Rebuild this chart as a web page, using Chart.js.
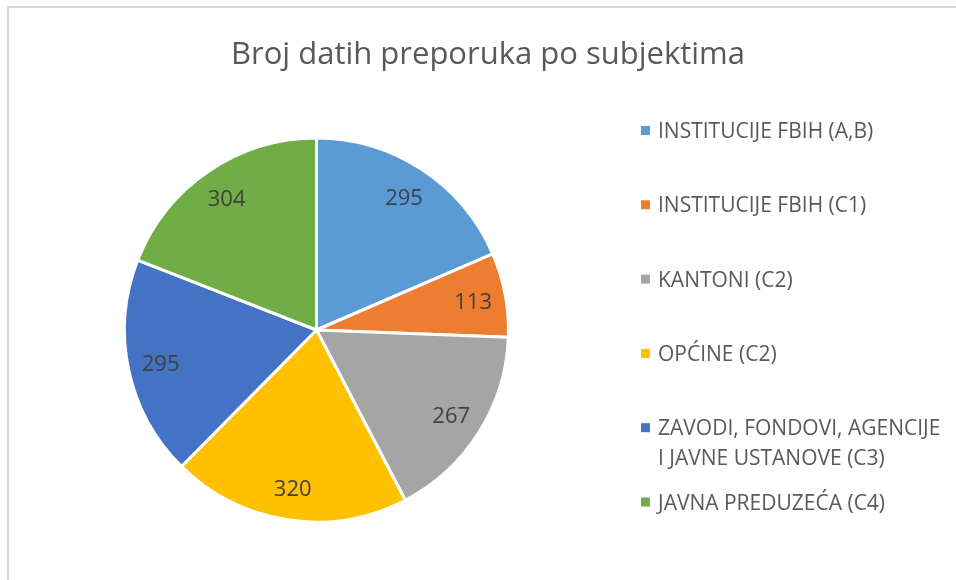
<!DOCTYPE html>
<html><head><meta charset="utf-8">
<script src="https://cdn.jsdelivr.net/npm/chart.js@4.4.0/dist/chart.umd.min.js"></script>
<style>
html,body{margin:0;padding:0;background:#fff;}
#wrap{position:relative;width:956px;height:580px;overflow:hidden;}
#frame{position:absolute;left:7px;top:6px;width:1000px;height:1000px;border-left:2px solid #d9d9d9;border-top:2px solid #d9d9d9;}
canvas{position:absolute;left:0;top:0;}
</style></head><body>
<div id="wrap"><div id="frame"></div><canvas id="c" width="956" height="580"></canvas></div>
<script>
const chartTitle = 'Broj datih preporuka po subjektima';
const categories = ['INSTITUCIJE FBIH (A,B)', 'INSTITUCIJE FBIH (C1)', 'KANTONI (C2)', 'OPĆINE (C2)', 'ZAVODI, FONDOVI, AGENCIJE I JAVNE USTANOVE (C3)', 'JAVNA PREDUZEĆA (C4)'];
const values = [295, 113, 267, 320, 295, 304];
const colors = ['#5B9BD5', '#ED7D31', '#A5A5A5', '#FFC000', '#4472C4', '#70AD47'];

const FONT = '"Open Sans", "Noto Sans", sans-serif';

function wrapText(ctx, text, maxW) {
  const words = text.split(' ');
  const lines = [];
  let cur = '';
  for (const w of words) {
    const t = cur ? cur + ' ' + w : w;
    if (ctx.measureText(t).width > maxW && cur) { lines.push(cur); cur = w; }
    else cur = t;
  }
  if (cur) lines.push(cur);
  return lines;
}

const decor = {
  id: 'decor',
  afterDatasetsDraw(chart) {
    const ctx = chart.ctx;
    const meta = chart.getDatasetMeta(0);
    const ds = chart.data.datasets[0];
    ctx.save();
    // data labels
    ctx.font = '22px ' + FONT;
    ctx.fillStyle = '#404040';
    ctx.textAlign = 'center';
    ctx.textBaseline = 'alphabetic';
    meta.data.forEach((arc, i) => {
      const p = arc.getProps(['x', 'y', 'startAngle', 'endAngle', 'outerRadius'], true);
      const a = (p.startAngle + p.endAngle) / 2;
      const r = p.outerRadius * 0.83;
      const x = p.x + Math.cos(a) * r;
      const y = p.y + Math.sin(a) * r;
      ctx.fillText(String(ds.data[i]), x, y + 8);
    });
    // title
    ctx.font = '31px ' + FONT;
    ctx.fillStyle = '#595959';
    ctx.fillText(chartTitle, 488, 64);
    // legend
    ctx.font = '21px ' + FONT;
    ctx.textAlign = 'left';
    let y = 130.5;
    chart.data.labels.forEach((lab, i) => {
      ctx.fillStyle = ds.backgroundColor[i];
      ctx.fillRect(641, y - 4.5, 9, 9);
      ctx.fillStyle = '#595959';
      const lines = wrapText(ctx, lab, 290);
      lines.forEach((ln, j) => ctx.fillText(ln, 658, y + 7.5 + j * 30));
      y += 74.3;
    });
    ctx.restore();
  }
};

new Chart(document.getElementById('c'), {
  type: 'pie',
  data: {
    labels: categories,
    datasets: [{
      data: values,
      backgroundColor: colors,
      borderColor: '#ffffff',
      borderWidth: 3,
      radius: 192
    }]
  },
  options: {
    responsive: false,
    animation: false,
    layout: { padding: { left: 0, right: 323, top: 80, bottom: 0 } },
    plugins: { legend: { display: false }, title: { display: false }, tooltip: { enabled: false } }
  },
  plugins: [decor]
});
</script>
</body></html>
